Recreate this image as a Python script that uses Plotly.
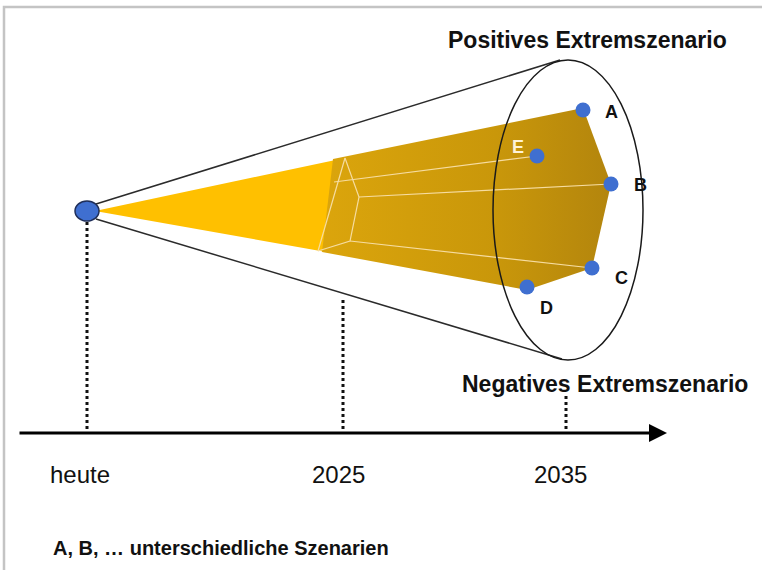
import plotly.graph_objects as go

# pixel-style coordinates (x right, y down)
W, H = 762, 570

# origin ("heute")
origin_xy = [87, 211]

# scenario end points at 2035
scen_labels = ["A", "B", "C", "D", "E"]
scen_x = [583, 611, 592, 527, 537]
scen_y = [110, 184, 268, 287, 156]
label_x = [611, 640, 621, 546, 518]
label_y = [112, 185, 278, 308, 147]

# cross-section at 2025 (A', B', C', D', E')
mid_x = [345, 359, 350, 318, 334]
mid_y = [158, 197, 241, 251, 182]

# light yellow cone (origin -> 2025 section)
cone_x = [95, 345, 326, 95]
cone_y = [211, 158, 252, 211]

# darker gold prism outline: A' A B C D D'
prism_x = [333, 583, 611, 592, 527, 322, 333]
prism_y = [159, 108, 184, 268, 290, 252, 159]

# ellipse (scenario funnel at 2035)
ell_cx, ell_cy, ell_rx, ell_ry = 568, 210, 75, 150

# funnel tangent lines
funnel_top_x = [96, 560]
funnel_top_y = [204, 60]
funnel_bot_x = [96, 562]
funnel_bot_y = [219, 359]

# time axis
tick_x = [87, 343, 566]
tick_top = [222, 300, 396]
axis_y = 433
tick_labels = ["heute", "2025", "2035"]
tick_label_x = [80, 338, 560]

FONT = "Liberation Sans, Arial"

fig = go.Figure()

# frame (top and left edges)
fig.add_trace(go.Scatter(x=[4, 4, W], y=[H, 7, 7], mode="lines",
                         line=dict(color="#c4c4c4", width=2.5),
                         hoverinfo="skip", showlegend=False))

# funnel lines
for fx, fy in [(funnel_top_x, funnel_top_y), (funnel_bot_x, funnel_bot_y)]:
    fig.add_trace(go.Scatter(x=fx, y=fy, mode="lines",
                             line=dict(color="#2b2b2b", width=1.5),
                             hoverinfo="skip", showlegend=False))

# yellow cone
fig.add_trace(go.Scatter(x=cone_x, y=cone_y, mode="lines", fill="toself",
                         fillcolor="#ffc000", line=dict(width=0),
                         hoverinfo="skip", showlegend=False))

# gold prism with horizontal gradient
fig.add_trace(go.Scatter(x=prism_x, y=prism_y, mode="lines", fill="toself",
                         fillgradient=dict(type="horizontal",
                                           colorscale=[[0, "#dba50c"], [0.6, "#c9970a"], [1, "#b3850d"]]),
                         line=dict(width=0),
                         hoverinfo="skip", showlegend=False))

# wireframe lines (2025 pentagon and edges to scenarios)
pent_order = [0, 1, 2, 3, 0]
fig.add_trace(go.Scatter(x=[mid_x[i] for i in pent_order], y=[mid_y[i] for i in pent_order],
                         mode="lines", line=dict(color="#f6dca0", width=1.2),
                         hoverinfo="skip", showlegend=False))
for i in [1, 2, 4]:
    fig.add_trace(go.Scatter(x=[mid_x[i], scen_x[i]], y=[mid_y[i], scen_y[i]],
                             mode="lines", line=dict(color="#f6dca0", width=1.2),
                             hoverinfo="skip", showlegend=False))

# ellipse
fig.add_shape(type="circle", xref="x", yref="y",
              x0=ell_cx - ell_rx, x1=ell_cx + ell_rx,
              y0=ell_cy - ell_ry, y1=ell_cy + ell_ry,
              line=dict(color="#1a1a1a", width=1.5))

# scenario points
fig.add_trace(go.Scatter(x=scen_x, y=scen_y, mode="markers",
                         marker=dict(size=15, color="#3f6fd0", line=dict(width=0)),
                         hoverinfo="skip", showlegend=False))
for lab, lx, ly in zip(scen_labels, label_x, label_y):
    fig.add_annotation(x=lx, y=ly, text=f"<b>{lab}</b>", showarrow=False,
                       font=dict(size=18, family=FONT,
                                 color="#fff3d6" if lab == "E" else "#111111"))

# dotted drop lines
for tx, tt in zip(tick_x, tick_top):
    fig.add_trace(go.Scatter(x=[tx, tx], y=[tt, axis_y], mode="lines",
                             line=dict(color="#111111", width=3, dash="dot"),
                             hoverinfo="skip", showlegend=False))

# origin point
fig.add_shape(type="circle", xref="x", yref="y",
              x0=origin_xy[0] - 12, x1=origin_xy[0] + 12,
              y0=origin_xy[1] - 10, y1=origin_xy[1] + 10,
              fillcolor="#3f6fd0", line=dict(color="#1f2f5a", width=1.5))

# time axis arrow
fig.add_annotation(x=667, y=axis_y, ax=18, ay=axis_y, xref="x", yref="y",
                   axref="x", ayref="y", text="", showarrow=True,
                   arrowhead=2, arrowsize=1.2, arrowwidth=3, arrowcolor="#000000")

for lab, lx in zip(tick_labels, tick_label_x):
    fig.add_annotation(x=lx, y=474, text=lab, showarrow=False,
                       font=dict(size=24, family=FONT, color="#111111"))

fig.add_annotation(x=587, y=40, text="<b>Positives Extremszenario</b>", showarrow=False,
                   font=dict(size=23, family=FONT, color="#111111"))
fig.add_annotation(x=605, y=384, text="<b>Negatives Extremszenario</b>", showarrow=False,
                   font=dict(size=23, family=FONT, color="#111111"))
fig.add_annotation(x=51, y=548, xanchor="left",
                   text="<b>A, B, … unterschiedliche Szenarien</b>", showarrow=False,
                   font=dict(size=20, family=FONT, color="#111111"))

fig.update_layout(
    width=W, height=H,
    margin=dict(l=0, r=0, t=0, b=0),
    paper_bgcolor="white", plot_bgcolor="white",
    xaxis=dict(range=[0, W], visible=False, fixedrange=True),
    yaxis=dict(range=[H, 0], visible=False, fixedrange=True),
    showlegend=False,
)

fig.write_html("out.html", config={"displayModeBar": False},
               post_script="document.body.style.margin='0';")
